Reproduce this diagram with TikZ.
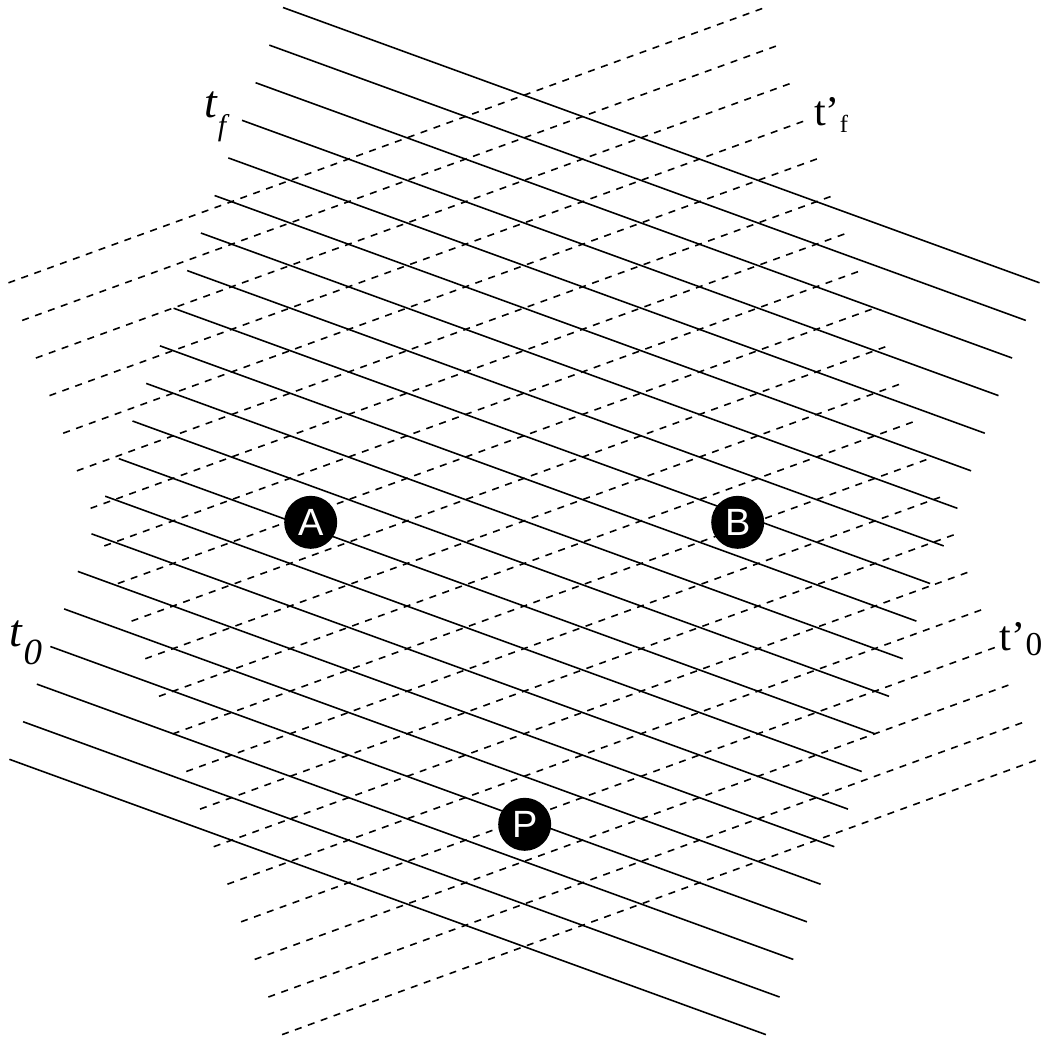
\documentclass[tikz,border=0pt]{standalone}
\usepackage{fontspec}
\setmainfont{Liberation Serif}
\setsansfont{Liberation Sans}
\usepackage{tikz}
\usepackage{xcolor}

\begin{document}
\begin{tikzpicture}[x=1cm,y=1cm,
  solidln/.style={black,line width=0.45pt},
  dashln/.style={black,line width=0.45pt,dash pattern=on 2pt off 1.9pt},
  ev/.style={circle,fill=black,text=white,inner sep=0pt,minimum size=0.53cm,
    font=\sffamily\fontsize{10.8}{12}\selectfont},
  lbl/.style={inner sep=0pt}]
\useasboundingbox (0,0) rectangle (10.42,-10.38);
\draw[dashln] (0.085,-2.828) -- (7.650,-0.075);
\draw[dashln] (0.222,-3.204) -- (7.787,-0.451);
\draw[dashln] (0.359,-3.580) -- (7.924,-0.827);
\draw[dashln] (0.495,-3.956) -- (8.060,-1.203);
\draw[dashln] (0.632,-4.332) -- (8.197,-1.579);
\draw[dashln] (0.769,-4.708) -- (8.334,-1.955);
\draw[dashln] (0.906,-5.083) -- (8.471,-2.330);
\draw[dashln] (1.043,-5.459) -- (8.608,-2.706);
\draw[dashln] (1.179,-5.835) -- (8.744,-3.082);
\draw[dashln] (1.316,-6.211) -- (8.881,-3.458);
\draw[dashln] (1.453,-6.587) -- (9.018,-3.834);
\draw[dashln] (1.590,-6.963) -- (9.155,-4.210);
\draw[dashln] (1.727,-7.339) -- (9.292,-4.586);
\draw[dashln] (1.863,-7.715) -- (9.428,-4.962);
\draw[dashln] (2.000,-8.091) -- (9.565,-5.338);
\draw[dashln] (2.137,-8.467) -- (9.702,-5.714);
\draw[dashln] (2.274,-8.842) -- (9.839,-6.089);
\draw[dashln] (2.411,-9.218) -- (9.976,-6.465);
\draw[dashln] (2.547,-9.594) -- (10.112,-6.841);
\draw[dashln] (2.684,-9.970) -- (10.249,-7.217);
\draw[dashln] (2.821,-10.346) -- (10.386,-7.593);
\draw[solidln] (2.830,-0.075) -- (10.395,-2.828);
\draw[solidln] (2.693,-0.451) -- (10.258,-3.204);
\draw[solidln] (2.556,-0.827) -- (10.121,-3.580);
\draw[solidln] (2.420,-1.203) -- (9.985,-3.956);
\draw[solidln] (2.283,-1.579) -- (9.848,-4.332);
\draw[solidln] (2.146,-1.955) -- (9.711,-4.708);
\draw[solidln] (2.009,-2.330) -- (9.574,-5.083);
\draw[solidln] (1.872,-2.706) -- (9.437,-5.459);
\draw[solidln] (1.736,-3.082) -- (9.301,-5.835);
\draw[solidln] (1.599,-3.458) -- (9.164,-6.211);
\draw[solidln] (1.462,-3.834) -- (9.027,-6.587);
\draw[solidln] (1.325,-4.210) -- (8.890,-6.963);
\draw[solidln] (1.188,-4.586) -- (8.753,-7.339);
\draw[solidln] (1.052,-4.962) -- (8.617,-7.715);
\draw[solidln] (0.915,-5.338) -- (8.480,-8.091);
\draw[solidln] (0.778,-5.714) -- (8.343,-8.467);
\draw[solidln] (0.641,-6.089) -- (8.206,-8.842);
\draw[solidln] (0.504,-6.465) -- (8.069,-9.218);
\draw[solidln] (0.368,-6.841) -- (7.933,-9.594);
\draw[solidln] (0.231,-7.217) -- (7.796,-9.970);
\draw[solidln] (0.094,-7.593) -- (7.659,-10.346);
\node[ev] (A) at (3.107,-5.223) {A};
\node[ev] (B) at (7.377,-5.223) {B};
\node[ev] (P) at (5.247,-8.243) {P};
\node[lbl] (tf) at (2.17,-1.17) {\fontsize{13}{15}\selectfont\textit{t}\raisebox{-5pt}{\fontsize{8.5}{10}\selectfont\textit{f}}};
\node[lbl] (tfp) at (8.31,-1.15) {\fontsize{12}{14}\selectfont t'\raisebox{-2pt}{\fontsize{7}{8}\selectfont f}};
\node[lbl] (t0) at (0.26,-6.43) {\fontsize{13}{15}\selectfont\textit{t}\raisebox{-5pt}{\fontsize{10.5}{12}\selectfont\textit{0}}};
\node[lbl] (t0p) at (10.21,-6.39) {\fontsize{12}{14}\selectfont t'\raisebox{-1.5pt}{\fontsize{9.5}{11}\selectfont 0}};
\end{tikzpicture}
\end{document}
